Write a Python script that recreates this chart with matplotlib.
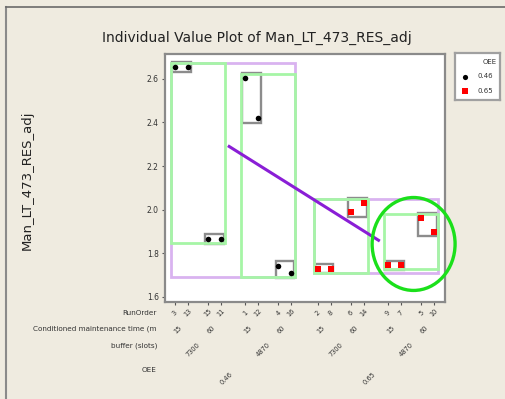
import matplotlib.pyplot as plt
from matplotlib.patches import Rectangle, Ellipse
from matplotlib.lines import Line2D

# one observation per run, in plotting order (OEE > buffer > maintenance time)
run_order = ['3', '13', '15', '11', '1', '12', '4', '16',
             '2', '8', '6', '14', '9', '7', '5', '10']
values = [2.655, 2.655, 1.868, 1.865, 2.605, 2.42, 1.744, 1.71,
          1.73, 1.73, 1.99, 2.03, 1.745, 1.745, 1.964, 1.90]
cm_time = ['15', '60']
buffer_slots = ['7300', '4870']
oee_levels = ['0.46', '0.65']
oee_means = [2.29, 1.86]

oee_colors = ['black', '#ff0000']
oee_markers = ['o', 's']

# x positions with wider gaps between higher-level groups
pos = []
x = 0.0
for i in range(len(values)):
    if i > 0:
        if i % 8 == 0:
            x += 2.1
        elif i % 4 == 0:
            x += 1.9
        elif i % 2 == 0:
            x += 1.6
        else:
            x += 1.0
    pos.append(x)

bg = '#efebe0'
fig = plt.figure(figsize=(5.06, 3.99), dpi=100, facecolor=bg)
ax = fig.add_axes([165 / 506, 1 - 302 / 399, 280 / 506, 248 / 399])
ax.set_facecolor('white')
ax.set_xlim(-0.78, 21.16)
ax.set_ylim(1.577, 2.714)


def box(i0, i1, color, px, py, lw, z):
    lo = min(values[i0:i1]) - py
    hi = max(values[i0:i1]) + py
    x0 = pos[i0] - px
    x1 = pos[i1 - 1] + px
    ax.add_patch(Rectangle((x0, lo), x1 - x0, hi - lo, fill=False,
                           edgecolor=color, lw=lw, zorder=z))


# maintenance time boxes sit under the buffer and OEE boxes
for g in range(8):
    box(g * 2, g * 2 + 2, '#8c8c8c', 0.22, 0.022, 1.7, 2)
for g in range(2):
    box(g * 8, g * 8 + 8, '#d9b3f0', 0.3, 0.018, 2.0, 3)
for g in range(4):
    box(g * 4, g * 4 + 4, '#a6f5a6', 0.3, 0.018, 2.0, 4)

# mean connect line across OEE levels
centers = [(pos[0] + pos[7]) / 2 - 0.3, (pos[8] + pos[15]) / 2 + 0.2]
ax.plot(centers, oee_means, color='#8a1ed6', lw=2.2, zorder=5)

for g in range(2):
    xs = pos[g * 8:g * 8 + 8]
    ys = values[g * 8:g * 8 + 8]
    ax.scatter(xs, ys, marker=oee_markers[g], color=oee_colors[g],
               s=16, lw=0, zorder=6)

# highlight ring around the last buffer group
ring_x = (pos[12] + pos[15]) / 2 + 0.2
ax.add_patch(Ellipse((ring_x, 1.843), 6.5, 0.426, fill=False,
                     edgecolor='#1be01b', lw=2.4, zorder=7, clip_on=False))

for s in ax.spines.values():
    s.set_color('#8a8a8a')
    s.set_linewidth(1.6)

ax.set_yticks([1.6, 1.8, 2.0, 2.2, 2.4, 2.6])
ax.set_yticklabels(['1.6', '1.8', '2.0', '2.2', '2.4', '2.6'])
ax.set_xticks(pos)
ax.set_xticklabels([])
ax.tick_params(axis='both', length=2.5, width=0.8, color='#555555',
               labelsize=5.5, labelcolor='#333333', pad=2)

# stacked category labels under the axis
tr = ax.get_xaxis_transform()


def ylab(py):
    return -(py - 302) / 248


for p, r in zip(pos, run_order):
    ax.text(p, ylab(313), r, transform=tr, rotation=45, ha='center',
            va='center', fontsize=4.8, color='#333333')
for k in range(8):
    c = (pos[2 * k] + pos[2 * k + 1]) / 2 - 0.3
    ax.text(c, ylab(330), cm_time[k % 2], transform=tr, rotation=45,
            ha='center', va='center', fontsize=4.8, color='#333333')
for k in range(4):
    c = (pos[4 * k] + pos[4 * k + 3]) / 2 - 0.4
    ax.text(c, ylab(350), buffer_slots[k % 2], transform=tr, rotation=45,
            ha='center', va='center', fontsize=4.8, color='#333333')
for k in range(2):
    c = (pos[8 * k] + pos[8 * k + 7]) / 2 - 0.5
    ax.text(c, ylab(378), oee_levels[k], transform=tr, rotation=45,
            ha='center', va='center', fontsize=4.8, color='#333333')

row_names = ['RunOrder', 'Conditioned maintenance time (m',
             'buffer (slots)', 'OEE']
row_y = [313, 329, 346, 370]
for name, py in zip(row_names, row_y):
    fig.text(157 / 506, 1 - py / 399, name, ha='right', va='center',
             fontsize=5.2, color='#333333')

fig.text(257 / 506, 1 - 38 / 399, 'Individual Value Plot of Man_LT_473_RES_adj',
         ha='center', va='center', fontsize=10, color='#222222')
fig.text(27 / 506, 1 - 180 / 399, 'Man_LT_473_RES_adj', rotation=90,
         ha='center', va='center', fontsize=9.5, color='#222222')

# legend panel
lg = fig.add_axes([455 / 506, 1 - 100 / 399, 45 / 506, 47 / 399])
lg.set_facecolor('white')
lg.set_xlim(0, 1)
lg.set_ylim(0, 1)
lg.set_xticks([])
lg.set_yticks([])
for s in lg.spines.values():
    s.set_color('#a0a0a0')
    s.set_linewidth(1.6)
lg.text(0.78, 0.8, 'OEE', ha='center', va='center', fontsize=5, color='#333333')
for k in range(2):
    yk = 0.5 - k * 0.3
    lg.scatter([0.22], [yk], marker=oee_markers[k], color=oee_colors[k], s=14, lw=0)
    lg.text(0.5, yk, oee_levels[k], ha='left', va='center', fontsize=5,
            color='#333333')

# window frame lines
fig.add_artist(Line2D([6 / 506, 6 / 506], [0, 1 - 7 / 399], color='#8a8a8a', lw=1.5))
fig.add_artist(Line2D([6 / 506, 1], [1 - 7 / 399, 1 - 7 / 399], color='#6a6a6a', lw=1.2))

fig.savefig('out.png', dpi=100, facecolor=bg)
